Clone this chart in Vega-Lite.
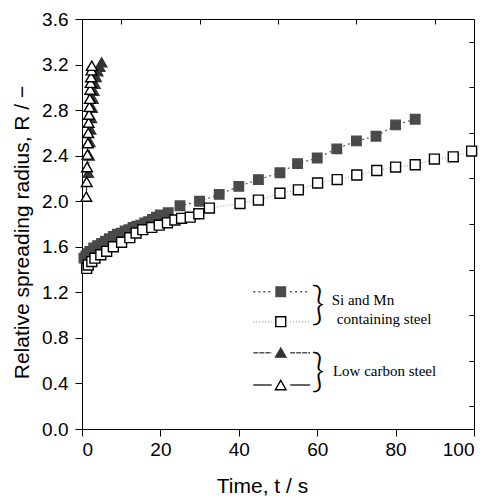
{
  "$schema": "https://vega.github.io/schema/vega-lite/v6.json",
  "width": 392,
  "height": 410,
  "autosize": {"type": "none"},
  "padding": {"left": 82, "top": 19, "right": 19, "bottom": 68},
  "background": "white",
  "config": {
    "view": {"stroke": "black", "strokeWidth": 1},
    "axis": {
      "domainColor": "black",
      "tickColor": "black",
      "grid": false,
      "labelFont": "Liberation Sans Narrow, Liberation Sans, sans-serif",
      "labelFontSize": 19,
      "labelColor": "black",
      "titleFont": "Liberation Sans, sans-serif",
      "titleFontSize": 21,
      "titleFontWeight": "normal",
      "titleColor": "black",
      "tickSize": 7
    }
  },
  "datasets": {
    "points": [
      {"series": "SiMn_closed", "role": "data", "t": 0.5, "R": 1.50},
      {"series": "SiMn_closed", "role": "data", "t": 1, "R": 1.52},
      {"series": "SiMn_closed", "role": "data", "t": 1.5, "R": 1.54},
      {"series": "SiMn_closed", "role": "data", "t": 2, "R": 1.56},
      {"series": "SiMn_closed", "role": "data", "t": 3, "R": 1.59},
      {"series": "SiMn_closed", "role": "data", "t": 4, "R": 1.61},
      {"series": "SiMn_closed", "role": "data", "t": 5, "R": 1.63},
      {"series": "SiMn_closed", "role": "data", "t": 6, "R": 1.65},
      {"series": "SiMn_closed", "role": "data", "t": 7, "R": 1.67},
      {"series": "SiMn_closed", "role": "data", "t": 8, "R": 1.69},
      {"series": "SiMn_closed", "role": "data", "t": 9, "R": 1.71},
      {"series": "SiMn_closed", "role": "data", "t": 10, "R": 1.72},
      {"series": "SiMn_closed", "role": "data", "t": 11, "R": 1.74},
      {"series": "SiMn_closed", "role": "data", "t": 12, "R": 1.75},
      {"series": "SiMn_closed", "role": "data", "t": 13, "R": 1.77},
      {"series": "SiMn_closed", "role": "data", "t": 14, "R": 1.78},
      {"series": "SiMn_closed", "role": "data", "t": 15, "R": 1.79},
      {"series": "SiMn_closed", "role": "data", "t": 16, "R": 1.81},
      {"series": "SiMn_closed", "role": "data", "t": 17, "R": 1.82},
      {"series": "SiMn_closed", "role": "data", "t": 18, "R": 1.84},
      {"series": "SiMn_closed", "role": "data", "t": 19, "R": 1.86},
      {"series": "SiMn_closed", "role": "data", "t": 20, "R": 1.88},
      {"series": "SiMn_closed", "role": "data", "t": 22, "R": 1.90},
      {"series": "SiMn_closed", "role": "data", "t": 25, "R": 1.96},
      {"series": "SiMn_closed", "role": "data", "t": 30, "R": 2.00},
      {"series": "SiMn_closed", "role": "data", "t": 35, "R": 2.06},
      {"series": "SiMn_closed", "role": "data", "t": 40, "R": 2.13},
      {"series": "SiMn_closed", "role": "data", "t": 45, "R": 2.19},
      {"series": "SiMn_closed", "role": "data", "t": 50.5, "R": 2.25},
      {"series": "SiMn_closed", "role": "data", "t": 55, "R": 2.33},
      {"series": "SiMn_closed", "role": "data", "t": 60, "R": 2.38},
      {"series": "SiMn_closed", "role": "data", "t": 65, "R": 2.46},
      {"series": "SiMn_closed", "role": "data", "t": 70, "R": 2.53},
      {"series": "SiMn_closed", "role": "data", "t": 75, "R": 2.57},
      {"series": "SiMn_closed", "role": "data", "t": 80, "R": 2.67},
      {"series": "SiMn_closed", "role": "data", "t": 85, "R": 2.72},
      {"series": "SiMn_open", "role": "data", "t": 1.2, "R": 1.41},
      {"series": "SiMn_open", "role": "data", "t": 1.6, "R": 1.44},
      {"series": "SiMn_open", "role": "data", "t": 2.5, "R": 1.47},
      {"series": "SiMn_open", "role": "data", "t": 3.3, "R": 1.50},
      {"series": "SiMn_open", "role": "data", "t": 4.8, "R": 1.53},
      {"series": "SiMn_open", "role": "data", "t": 6.3, "R": 1.56},
      {"series": "SiMn_open", "role": "data", "t": 8, "R": 1.60},
      {"series": "SiMn_open", "role": "data", "t": 10.1, "R": 1.64},
      {"series": "SiMn_open", "role": "data", "t": 12.2, "R": 1.68},
      {"series": "SiMn_open", "role": "data", "t": 13.8, "R": 1.72},
      {"series": "SiMn_open", "role": "data", "t": 15.5, "R": 1.75},
      {"series": "SiMn_open", "role": "data", "t": 17.8, "R": 1.77},
      {"series": "SiMn_open", "role": "data", "t": 19.7, "R": 1.79},
      {"series": "SiMn_open", "role": "data", "t": 21.8, "R": 1.81},
      {"series": "SiMn_open", "role": "data", "t": 23.7, "R": 1.835},
      {"series": "SiMn_open", "role": "data", "t": 25.4, "R": 1.85},
      {"series": "SiMn_open", "role": "data", "t": 27.6, "R": 1.86},
      {"series": "SiMn_open", "role": "data", "t": 29.8, "R": 1.89},
      {"series": "SiMn_open", "role": "data", "t": 32.5, "R": 1.94},
      {"series": "SiMn_open", "role": "data", "t": 40.3, "R": 1.98},
      {"series": "SiMn_open", "role": "data", "t": 45, "R": 2.01},
      {"series": "SiMn_open", "role": "data", "t": 50.5, "R": 2.07},
      {"series": "SiMn_open", "role": "data", "t": 55.2, "R": 2.10},
      {"series": "SiMn_open", "role": "data", "t": 60.1, "R": 2.16},
      {"series": "SiMn_open", "role": "data", "t": 65.1, "R": 2.19},
      {"series": "SiMn_open", "role": "data", "t": 70.1, "R": 2.23},
      {"series": "SiMn_open", "role": "data", "t": 75.2, "R": 2.27},
      {"series": "SiMn_open", "role": "data", "t": 80, "R": 2.30},
      {"series": "SiMn_open", "role": "data", "t": 85, "R": 2.32},
      {"series": "SiMn_open", "role": "data", "t": 89.9, "R": 2.37},
      {"series": "SiMn_open", "role": "data", "t": 94.7, "R": 2.39},
      {"series": "SiMn_open", "role": "data", "t": 99.4, "R": 2.44},
      {"series": "LC_closed", "role": "data", "t": 1.6, "R": 2.25},
      {"series": "LC_closed", "role": "data", "t": 1.8, "R": 2.40},
      {"series": "LC_closed", "role": "data", "t": 2.0, "R": 2.52},
      {"series": "LC_closed", "role": "data", "t": 2.2, "R": 2.63},
      {"series": "LC_closed", "role": "data", "t": 2.4, "R": 2.73},
      {"series": "LC_closed", "role": "data", "t": 2.6, "R": 2.82},
      {"series": "LC_closed", "role": "data", "t": 2.8, "R": 2.90},
      {"series": "LC_closed", "role": "data", "t": 3.0, "R": 2.97},
      {"series": "LC_closed", "role": "data", "t": 3.3, "R": 3.03},
      {"series": "LC_closed", "role": "data", "t": 3.6, "R": 3.09},
      {"series": "LC_closed", "role": "data", "t": 4.0, "R": 3.14},
      {"series": "LC_closed", "role": "data", "t": 4.5, "R": 3.18},
      {"series": "LC_closed", "role": "data", "t": 5.0, "R": 3.22},
      {"series": "LC_open", "role": "data", "t": 1.1, "R": 2.04},
      {"series": "LC_open", "role": "data", "t": 1.2, "R": 2.17},
      {"series": "LC_open", "role": "data", "t": 1.3, "R": 2.30},
      {"series": "LC_open", "role": "data", "t": 1.4, "R": 2.41},
      {"series": "LC_open", "role": "data", "t": 1.5, "R": 2.51},
      {"series": "LC_open", "role": "data", "t": 1.6, "R": 2.60},
      {"series": "LC_open", "role": "data", "t": 1.7, "R": 2.69},
      {"series": "LC_open", "role": "data", "t": 1.8, "R": 2.76},
      {"series": "LC_open", "role": "data", "t": 1.9, "R": 2.83},
      {"series": "LC_open", "role": "data", "t": 2.0, "R": 2.90},
      {"series": "LC_open", "role": "data", "t": 2.1, "R": 2.98},
      {"series": "LC_open", "role": "data", "t": 2.2, "R": 3.04},
      {"series": "LC_open", "role": "data", "t": 2.3, "R": 3.09},
      {"series": "LC_open", "role": "data", "t": 2.4, "R": 3.15},
      {"series": "LC_open", "role": "data", "t": 2.5, "R": 3.19},
      {"series": "SiMn_closed", "role": "key", "t": 50.7, "R": 1.205},
      {"series": "SiMn_open", "role": "key", "t": 50.7, "R": 0.942},
      {"series": "LC_closed", "role": "key", "t": 50.7, "R": 0.67},
      {"series": "LC_open", "role": "key", "t": 50.7, "R": 0.386}
    ],
    "keylines": [
      {"series": "SiMn_closed", "t1": 43.7, "t2": 48.4, "R": 1.205},
      {"series": "SiMn_closed", "t1": 53.1, "t2": 58.2, "R": 1.205},
      {"series": "SiMn_open", "t1": 43.7, "t2": 48.4, "R": 0.942},
      {"series": "SiMn_open", "t1": 53.1, "t2": 58.2, "R": 0.942},
      {"series": "LC_closed", "t1": 43.7, "t2": 48.4, "R": 0.67},
      {"series": "LC_closed", "t1": 53.1, "t2": 58.2, "R": 0.67},
      {"series": "LC_open", "t1": 43.7, "t2": 48.4, "R": 0.386},
      {"series": "LC_open", "t1": 53.1, "t2": 58.2, "R": 0.386}
    ],
    "keytext": [
      {"label": "Si and Mn", "t": 63.7, "R": 1.13},
      {"label": "containing steel", "t": 65.0, "R": 0.97},
      {"label": "Low carbon steel", "t": 64.0, "R": 0.51}
    ],
    "braces": [
      {"label": "}", "t": 60.2, "R": 1.09},
      {"label": "}", "t": 60.2, "R": 0.50}
    ]
  },
  "layer": [
    {
      "layer": [
        {
          "data": {"name": "points"},
          "transform": [{"filter": "datum.role == 'data'"}],
          "mark": {"type": "line", "strokeWidth": 1.2, "clip": true},
          "encoding": {
            "x": {"field": "t", "type": "quantitative", "scale": {"domain": [0, 100], "nice": false, "zero": false},
              "axis": {"values": [0, 20, 40, 60, 80, 100], "title": "Time, t / s", "labelPadding": 4, "titleX": 180, "titleY": 57, "titleBaseline": "middle", "titleAnchor": null, "titleAlign": "center"}},
            "y": {"field": "R", "type": "quantitative", "scale": {"domain": [0, 3.6], "nice": false, "zero": false},
              "axis": {"values": [0, 0.4, 0.8, 1.2, 1.6, 2.0, 2.4, 2.8, 3.2, 3.6], "format": ".1f", "title": "Relative spreading radius, R / \u2212", "labelPadding": 7, "titleX": -60, "titleY": 213, "titleBaseline": "middle", "titleAlign": "center", "titleAngle": -90}},
            "detail": {"field": "series"},
            "color": {"field": "series", "type": "nominal", "legend": null,
              "scale": {"domain": ["SiMn_closed", "SiMn_open", "LC_closed", "LC_open"], "range": ["#555555", "#aaaaaa", "#555555", "#333333"]}},
            "strokeDash": {"field": "series", "type": "nominal", "legend": null,
              "scale": {"domain": ["SiMn_closed", "SiMn_open", "LC_closed", "LC_open"], "range": [[2, 3], [1, 2], [5, 1], [1, 0]]}}
          }
        },
        {
          "data": {"name": "keylines"},
          "mark": {"type": "rule", "strokeWidth": 1.5},
          "encoding": {
            "x": {"field": "t1", "type": "quantitative"},
            "x2": {"field": "t2"},
            "y": {"field": "R", "type": "quantitative"},
            "color": {"field": "series", "type": "nominal", "legend": null},
            "strokeDash": {"field": "series", "type": "nominal", "legend": null}
          }
        },
        {
          "data": {"name": "points"},
          "mark": {"type": "point", "filled": true, "strokeWidth": 1.4, "opacity": 1},
          "encoding": {
            "x": {"field": "t", "type": "quantitative"},
            "y": {"field": "R", "type": "quantitative"},
            "shape": {"field": "series", "type": "nominal", "legend": null,
              "scale": {"domain": ["SiMn_closed", "SiMn_open", "LC_closed", "LC_open"], "range": ["square", "square", "triangle-up", "triangle-up"]}},
            "fill": {"field": "series", "type": "nominal", "legend": null,
              "scale": {"domain": ["SiMn_closed", "SiMn_open", "LC_closed", "LC_open"], "range": ["#4a4a4a", "#ffffff", "#333333", "#ffffff"]}},
            "stroke": {"field": "series", "type": "nominal", "legend": null,
              "scale": {"domain": ["SiMn_closed", "SiMn_open", "LC_closed", "LC_open"], "range": ["#4a4a4a", "#000000", "#333333", "#000000"]}},
            "size": {"field": "series", "type": "nominal", "legend": null,
              "scale": {"domain": ["SiMn_closed", "SiMn_open", "LC_closed", "LC_open"], "range": [90, 115, 130, 150]}}
          }
        },
        {
          "data": {"name": "keytext"},
          "mark": {"type": "text", "align": "left", "baseline": "middle", "font": "Liberation Serif, Times New Roman, serif", "fontSize": 15, "color": "black"},
          "encoding": {
            "x": {"field": "t", "type": "quantitative"},
            "y": {"field": "R", "type": "quantitative"},
            "text": {"field": "label"}
          }
        },
        {
          "data": {"name": "braces"},
          "mark": {"type": "text", "align": "center", "baseline": "middle", "font": "Lato", "fontWeight": 300, "fontSize": 46, "color": "black"},
          "encoding": {
            "x": {"field": "t", "type": "quantitative"},
            "y": {"field": "R", "type": "quantitative"},
            "text": {"field": "label"}
          }
        }
      ]
    },
    {
      "data": {"values": [{"t": 0, "R": 0}]},
      "mark": {"type": "point", "opacity": 0},
      "encoding": {
        "x": {"field": "t", "type": "quantitative", "scale": {"domain": [0, 100], "nice": false},
          "axis": {"values": [10, 30, 50, 70, 90], "tickSize": -5, "labels": false, "domain": false, "title": null}},
        "y": {"field": "R", "type": "quantitative", "scale": {"domain": [0, 3.6], "nice": false},
          "axis": {"values": [0.2, 0.6, 1.0, 1.4, 1.8, 2.2, 2.6, 3.0, 3.4], "tickSize": -5, "labels": false, "domain": false, "title": null}}
      }
    }
  ],
  "resolve": {"axis": {"x": "independent", "y": "independent"}}
}
